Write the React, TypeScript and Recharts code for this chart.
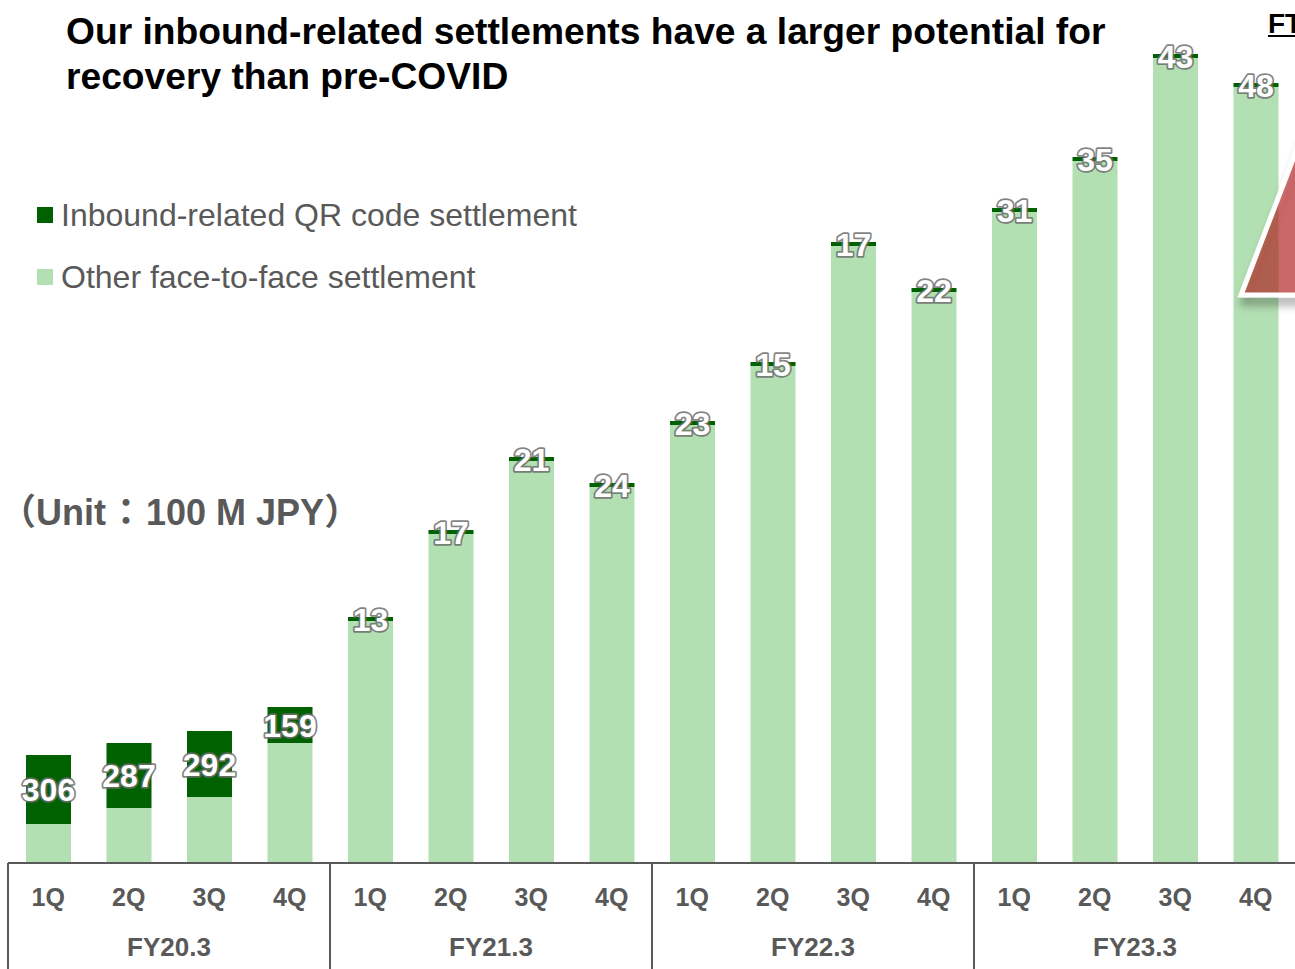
import React from "react";
import { BarChart, Bar, XAxis, YAxis, LabelList } from "recharts";

const DARK_GREEN = "#006100";
const LIGHT_GREEN = "#b3e0b3";
const AXIS_GRAY = "#595959";
const FONT = "Arial, 'Liberation Sans', Helvetica, sans-serif";
const CJK = "'Noto Sans CJK JP', sans-serif";

// quarters and fiscal years on the two-level x axis
const quarters = ["1Q", "2Q", "3Q", "4Q", "1Q", "2Q", "3Q", "4Q", "1Q", "2Q", "3Q", "4Q", "1Q", "2Q", "3Q", "4Q"];
const fiscalYears = ["FY20.3", "FY21.3", "FY22.3", "FY23.3"];

// bar heights (index; the slide does not draw them to scale)
const otherHeight = [39, 55, 66, 120, 242, 329, 402, 376, 438, 497, 617, 571, 651, 702, 805, 776];
const inboundHeight = [69, 65, 66, 36, 4, 4, 4, 4, 4, 4, 4, 4, 4, 4, 4, 4];
// inbound-related QR code settlement (100 M JPY), printed on the bars
const inboundLabel = [306, 287, 292, 159, 13, 17, 21, 24, 23, 15, 17, 22, 31, 35, 43, 48];

const legendItems = [
  { color: DARK_GREEN, text: "Inbound-related QR code settlement" },
  { color: LIGHT_GREEN, text: "Other face-to-face settlement" },
];

const data = quarters.map((q, i) => ({
  key: `${i}`,
  q,
  other: otherHeight[i],
  inbound: inboundHeight[i],
  label: inboundLabel[i],
}));

function QuarterTick(props: any) {
  const { x, y, payload, index } = props;
  const band = 80.5;
  const fy = index % 4 === 0 ? fiscalYears[index / 4] : null;
  return (
    <g>
      <text
        x={x}
        y={y + 35}
        textAnchor="middle"
        fill={AXIS_GRAY}
        fontFamily={FONT}
        fontWeight="bold"
        fontSize={25}
      >
        {quarters[Number(payload.value)]}
      </text>
      {fy && (
        <>
          <line x1={x - band / 2} y1={y - 8} x2={x - band / 2} y2={y + 100} stroke={AXIS_GRAY} strokeWidth={2} />
          <text
            x={x - band / 2 + band * 2}
            y={y + 85}
            textAnchor="middle"
            fill={AXIS_GRAY}
            fontFamily={FONT}
            fontWeight="bold"
            fontSize={26}
          >
            {fy}
          </text>
        </>
      )}
    </g>
  );
}

function ValueLabel(props: any) {
  const { x, y, width, height, value } = props;
  return (
    <text
      x={x + width / 2}
      y={y + height / 2 + 11.5}
      textAnchor="middle"
      fontFamily={FONT}
      fontWeight="bold"
      fontSize={32}
      fill="#ffffff"
      stroke="#6e6e6e"
      strokeOpacity={0.85}
      strokeWidth={3.5}
      strokeLinejoin="round"
      paintOrder="stroke"
    >
      {value}
    </text>
  );
}

export default function App() {
  return (
    <div
      style={{
        position: "absolute",
        left: 0,
        top: 0,
        width: 1295,
        height: 969,
        overflow: "hidden",
        background: "#ffffff",
        fontFamily: FONT,
      }}
    >
      <BarChart
        width={1296}
        height={969}
        data={data}
        margin={{ top: 0, right: 0, bottom: 0, left: 8 }}
        barSize={45}
      >
        <XAxis
          dataKey="key"
          height={106}
          interval={0}
          tickLine={false}
          axisLine={{ stroke: AXIS_GRAY, strokeWidth: 2 }}
          tick={<QuarterTick />}
        />
        <YAxis hide domain={[0, 863]} />
        <Bar dataKey="other" stackId="a" fill={LIGHT_GREEN} isAnimationActive={false} />
        <Bar dataKey="inbound" stackId="a" fill={DARK_GREEN} isAnimationActive={false}>
          <LabelList dataKey="label" content={<ValueLabel />} />
        </Bar>
      </BarChart>

      {/* legend */}
      <div style={{ position: "absolute", left: 37, top: 184, color: AXIS_GRAY, fontSize: 32 }}>
        {legendItems.map((it) => (
          <div key={it.text} style={{ display: "flex", alignItems: "center", height: 62, whiteSpace: "nowrap" }}>
            <span style={{ display: "inline-block", width: 16, height: 16, background: it.color, marginRight: 8 }} />
            <span>{it.text}</span>
          </div>
        ))}
      </div>

      <div
        style={{
          position: "absolute",
          left: 66,
          top: 9,
          fontSize: 37.2,
          lineHeight: "45px",
          fontWeight: "bold",
          color: "#000000",
          whiteSpace: "nowrap",
        }}
      >
        Our inbound-related settlements have a larger potential for
        <br />
        recovery than pre-COVID
      </div>

      <div
        style={{
          position: "absolute",
          left: 1268,
          top: 8,
          fontSize: 28,
          fontWeight: "bold",
          color: "#000000",
          textDecoration: "underline",
          whiteSpace: "nowrap",
        }}
      >
        FT
      </div>

      <div
        style={{
          position: "absolute",
          left: 0,
          top: 486,
          fontSize: 36,
          lineHeight: "46px",
          fontWeight: "bold",
          color: AXIS_GRAY,
          whiteSpace: "nowrap",
        }}
      >
        <span style={{ fontFamily: CJK }}>（</span>
        Unit
        <span style={{ fontFamily: CJK, padding: "0 2px" }}>：</span>
        100 M JPY
        <span style={{ fontFamily: CJK }}>）</span>
      </div>

      <svg
        width={1295}
        height={969}
        style={{ position: "absolute", left: 0, top: 0, pointerEvents: "none" }}
      >
        <defs>
          <filter id="tri-shadow" x="-20%" y="-20%" width="140%" height="150%">
            <feDropShadow dx="2" dy="8" stdDeviation="4" floodColor="#000" floodOpacity="0.35" />
          </filter>
        </defs>
        <polygon
          points="1241,295 1352,5 1460,295"
          fill="rgba(185,30,30,0.58)"
          stroke="#ffffff"
          strokeWidth={5}
          filter="url(#tri-shadow)"
        />
      </svg>
    </div>
  );
}
